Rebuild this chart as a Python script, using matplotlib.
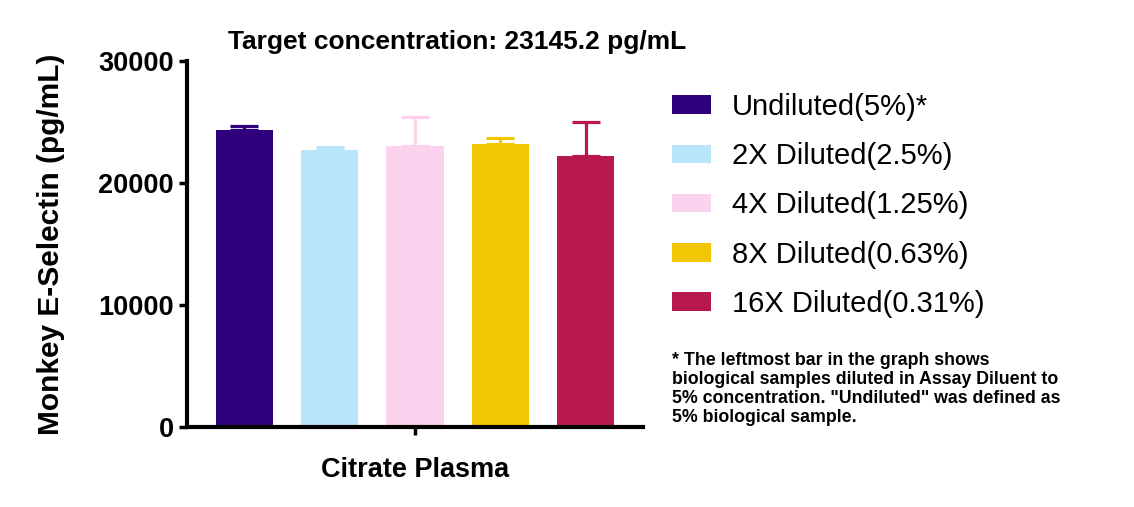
import matplotlib
matplotlib.use("Agg")
from matplotlib import pyplot as plt
from matplotlib.patches import Patch

labels = ["Undiluted(5%)*", "2X Diluted(2.5%)", "4X Diluted(1.25%)",
          "8X Diluted(0.63%)", "16X Diluted(0.31%)"]
means = [24320, 22680, 23000, 23170, 22190]
upper_err = [330, 270, 2410, 470, 2810]
colors = ["#2E007E", "#B8E5F9", "#FCD3EE", "#F3C602", "#B8194D"]
yticks = [0, 10000, 20000, 30000]

plt.rcParams["font.family"] = ["Liberation Sans", "DejaVu Sans"]

fig = plt.figure(figsize=(11.34, 5.07), dpi=100)
ax = fig.add_axes([0.165, 0.158, 0.402, 0.722])

x = list(range(len(means)))
for i in x:
    ax.bar(i, means[i], width=0.67, color=colors[i], zorder=2)
    ax.errorbar(i, means[i], yerr=[[0], [upper_err[i]]], fmt="none",
                ecolor=colors[i], elinewidth=2.3, capsize=10, capthick=2.3, zorder=1)

ax.set_xlim(-0.67, 4.67)
ax.set_ylim(0, 30000)
ax.set_yticks(yticks)
ax.set_yticklabels([str(t) for t in yticks], fontsize=19.5, fontweight="bold")
ax.set_xticks([2])
ax.set_xticklabels([""])
ax.tick_params(axis="both", width=2.5, length=6, direction="out")
for s in ["top", "right"]:
    ax.spines[s].set_visible(False)
for s in ["left", "bottom"]:
    ax.spines[s].set_linewidth(3)

ax.set_ylabel("Monkey E-Selectin (pg/mL)", fontsize=21.5, fontweight="bold", labelpad=24)
ax.set_xlabel("Citrate Plasma", fontsize=19.5, fontweight="bold", labelpad=12)

fig.text(0.403, 0.917, "Target concentration: 23145.2 pg/mL", fontsize=19,
         fontweight="bold", ha="center", va="center")

handles = [Patch(facecolor=c, edgecolor="none") for c in colors]
fig.legend(handles, labels, loc="upper left", bbox_to_anchor=(0.582, 0.84),
           frameon=False, fontsize=21, handlelength=1.34, handleheight=0.59,
           handletextpad=0.72, labelspacing=0.73, borderaxespad=0)

fig.text(0.593, 0.305,
         "* The leftmost bar in the graph shows\n"
         "biological samples diluted in Assay Diluent to\n"
         "5% concentration. \"Undiluted\" was defined as\n"
         "5% biological sample.",
         fontsize=12.8, fontweight="bold", ha="left", va="top", linespacing=1.15)

fig.savefig("out.png", dpi=100)
